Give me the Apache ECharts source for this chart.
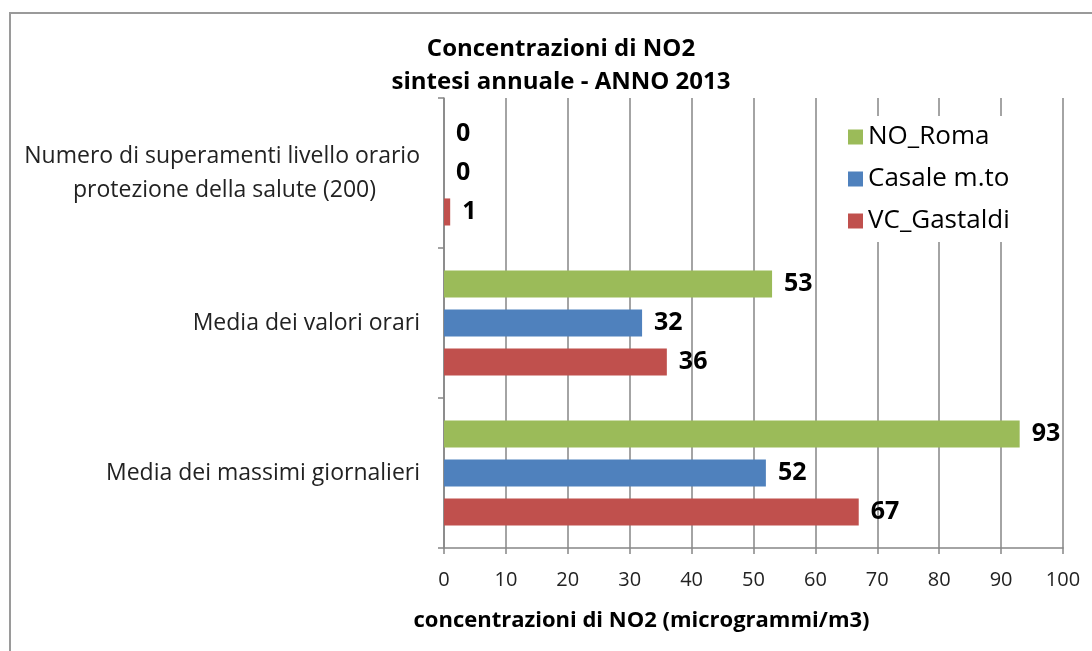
<!DOCTYPE html>
<html>
<head>
<meta charset="utf-8">
<script src="https://cdn.jsdelivr.net/npm/echarts@6/dist/echarts.min.js"></script>
<style>
html,body{margin:0;padding:0;background:#fff;}
#chart{width:1092px;height:651px;}
</style>
</head>
<body>
<div id="chart"></div>
<script>
// Categories (bottom to top, as ECharts draws a category y axis)
const categories = [
  "Media dei massimi giornalieri",
  "Media dei valori orari",
  "Numero di superamenti livello orario\nprotezione della salute (200)"
];
const seriesNames = ["NO_Roma", "Casale m.to", "VC_Gastaldi"];
const vcGastaldi = [67, 36, 1];
const casale = [52, 32, 0];
const noRoma = [93, 53, 0];
const xTicks = [0, 100, 10]; // min, max, interval

const titleText = "Concentrazioni di NO2\nsintesi annuale - ANNO 2013";
const xAxisName = "concentrazioni di NO2 (microgrammi/m3)";

const colors = {"VC_Gastaldi": "#C0504D", "Casale m.to": "#4F81BD", "NO_Roma": "#9BBB59"};
const values = {"VC_Gastaldi": vcGastaldi, "Casale m.to": casale, "NO_Roma": noRoma};

const FONT = "Open Sans";
const chart = echarts.init(document.getElementById('chart'));

const series = seriesNames.map(function (n) {
  return {
    name: n,
    type: 'bar',
    data: values[n],
    itemStyle: {color: colors[n]},
    barGap: '44%',
    barCategoryGap: '30%',
    label: {
      show: true,
      position: 'right',
      distance: 12,
      fontFamily: FONT,
      fontWeight: 'bold',
      fontSize: 25,
      color: '#000'
    }
  };
});

chart.setOption({
  backgroundColor: '#fff',
  animation: false,
  title: {
    text: titleText,
    left: 556,
    textAlign: 'center',
    top: 28,
    textStyle: {fontFamily: FONT, fontWeight: 'bold', fontSize: 24, color: '#000', lineHeight: 33}
  },
  legend: {
    data: ["NO_Roma", "Casale m.to", "VC_Gastaldi"],
    orient: 'vertical',
    left: 840,
    top: 116,
    itemWidth: 15,
    itemHeight: 15,
    itemGap: 16,
    backgroundColor: '#fff',
    padding: [8, 10, 8, 8],
    textStyle: {fontFamily: FONT, fontSize: 26, color: '#000'},
    icon: 'rect'
  },
  grid: {left: 444, right: 29, top: 98, bottom: 103, containLabel: false},
  xAxis: {
    type: 'value',
    min: xTicks[0],
    max: xTicks[1],
    interval: xTicks[2],
    name: xAxisName,
    nameLocation: 'middle',
    nameGap: 62,
    nameTextStyle: {fontFamily: FONT, fontWeight: 'bold', fontSize: 22, color: '#000', padding: [0, 224, 0, 0]},
    axisLine: {show: true, lineStyle: {color: '#868686', width: 1.5}},
    axisTick: {show: true, length: 6, lineStyle: {color: '#868686', width: 1.5}},
    axisLabel: {fontFamily: FONT, fontSize: 20, color: '#222', margin: 22},
    splitLine: {show: true, lineStyle: {color: '#868686', width: 1.5}}
  },
  yAxis: {
    type: 'category',
    data: categories,
    axisLine: {show: true, lineStyle: {color: '#868686', width: 1.5}},
    axisTick: {show: true, length: 6, lineStyle: {color: '#868686', width: 1.5}},
    axisLabel: {
      fontFamily: FONT, fontSize: 23, color: '#222', margin: 24, lineHeight: 34,
      formatter: function (v) {
        const parts = v.split('\n');
        if (parts.length > 1) {
          return parts[0] + '\n{p|' + parts[1] + '}';
        }
        return v;
      },
      rich: {p: {fontFamily: FONT, fontSize: 23, color: '#222', padding: [0, 44, 0, 0], lineHeight: 34}}
    },
    splitLine: {show: false}
  },
  graphic: [{
    type: 'rect',
    z: -1,
    shape: {x: 10, y: 13, width: 1200, height: 800},
    style: {fill: 'none', stroke: '#9a9a9a', lineWidth: 2}
  }],
  series: series
});
</script>
</body>
</html>
